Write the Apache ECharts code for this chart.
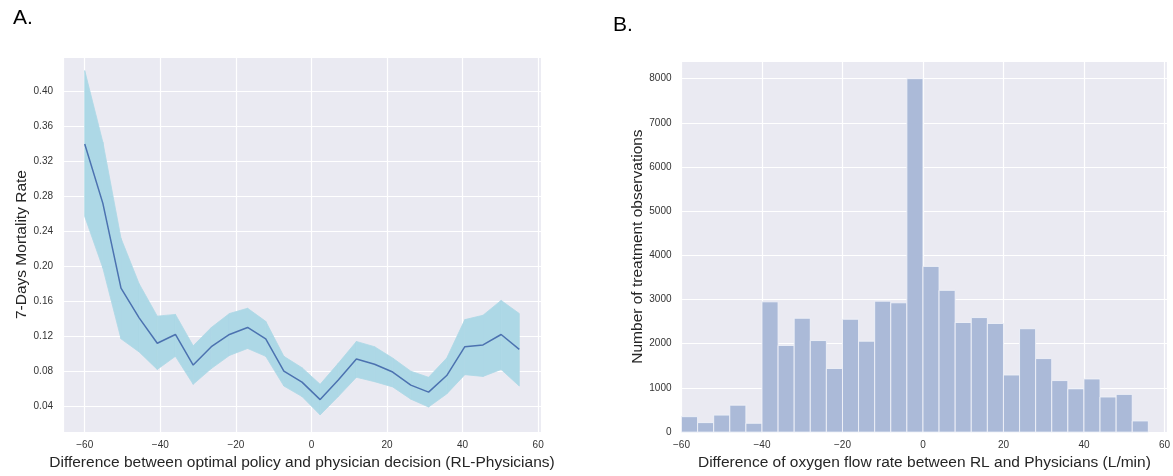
<!DOCTYPE html>
<html>
<head>
<meta charset="utf-8">
<script src="https://cdn.jsdelivr.net/npm/echarts@6/dist/echarts.min.js"></script>
<style>
html,body{margin:0;padding:0;background:#fff;}
#c{width:1173px;height:476px;}
</style>
</head>
<body>
<div id="c"></div>
<script>
// Panel A: mortality rate vs. difference (RL - Physicians)
const diffX = [-60, -55.2, -50.4, -45.6, -40.8, -36.0, -31.3, -26.5, -21.7, -16.9, -12.1, -7.3, -2.5,
  2.3, 7.1, 11.9, 16.7, 21.5, 26.3, 31.0, 35.8, 40.6, 45.4, 50.2, 55.0];
const mortalityMean = [0.340, 0.272, 0.175, 0.141, 0.112, 0.122, 0.087, 0.108, 0.122, 0.130, 0.117, 0.080, 0.0675,
  0.0475, 0.070, 0.094, 0.088, 0.079, 0.064, 0.056, 0.075, 0.108, 0.110, 0.122, 0.105];
const mortalityUpper = [0.424, 0.342, 0.232, 0.180, 0.143, 0.145, 0.109, 0.130, 0.146, 0.152, 0.137, 0.097, 0.084,
  0.065, 0.089, 0.114, 0.108, 0.095, 0.080, 0.073, 0.095, 0.139, 0.144, 0.161, 0.146];
const mortalityLower = [0.257, 0.198, 0.117, 0.102, 0.082, 0.097, 0.065, 0.083, 0.098, 0.106, 0.097, 0.063, 0.051,
  0.030, 0.051, 0.073, 0.068, 0.062, 0.048, 0.039, 0.054, 0.076, 0.074, 0.082, 0.063];

// Panel B: histogram of oxygen flow rate difference
const binStarts = [-60, -56, -52, -48, -44, -40, -36, -32, -28, -24, -20, -16, -12, -8, -4,
  0, 4, 8, 12, 16, 20, 24, 28, 32, 36, 40, 44, 48, 52];
const binWidth = 4;
const binCounts = [349, 215, 386, 609, 200, 2949, 1961, 2578, 2072, 1441, 2555, 2058, 2964, 2927, 8000,
  3751, 3209, 2481, 2592, 2459, 1293, 2340, 1664, 1166, 980, 1203, 795, 854, 253];

const FONT = '"Liberation Sans", Arial, sans-serif';
const fmtMinus = v => (v < 0 ? '\u2212' + String(Math.abs(v)) : String(v));

// band segments: [x0, x1, lo0, lo1, up0, up1]
const bandSegs = [];
for (let i = 0; i < diffX.length - 1; i++) {
  bandSegs.push([diffX[i], diffX[i + 1], mortalityLower[i], mortalityLower[i + 1], mortalityUpper[i], mortalityUpper[i + 1]]);
}
const meanData = diffX.map((x, i) => [x, mortalityMean[i]]);
const histData = binStarts.map((s, i) => [s, s + binWidth, binCounts[i]]);

const axisLabelBase = { color: '#333', fontSize: 10, fontFamily: FONT };
const splitLineBase = { show: true, lineStyle: { color: '#ffffff', width: 1.2 } };
const BAND = '#ADD8E6';

const chart = echarts.init(document.getElementById('c'), null, { renderer: 'canvas' });
chart.setOption({
  animation: false,
  backgroundColor: '#ffffff',
  title: [
    { text: 'A.', left: 8, top: 3, textStyle: { fontSize: 21, fontWeight: 'normal', color: '#000', fontFamily: FONT } },
    { text: 'B.', left: 608, top: 10, textStyle: { fontSize: 21, fontWeight: 'normal', color: '#000', fontFamily: FONT } }
  ],
  grid: [
    { left: 63, right: 632, top: 57, bottom: 40, show: true, backgroundColor: '#EAEAF2', borderWidth: 0, containLabel: false },
    { left: 681.5, right: 0, top: 61, bottom: 39, show: true, backgroundColor: '#EAEAF2', borderWidth: 0, containLabel: false }
  ],
  xAxis: [
    {
      gridIndex: 0, type: 'value', min: -65.75, max: 60.75, splitNumber: 6, minInterval: 20, maxInterval: 20,
      axisLine: { show: false }, axisTick: { show: false },
      axisLabel: Object.assign({}, axisLabelBase, { margin: 8,
        formatter: v => (Math.abs(v / 20 - Math.round(v / 20)) < 1e-6 ? fmtMinus(v) : '') }),
      splitLine: splitLineBase,
      name: 'Difference between optimal policy and physician decision (RL-Physicians)',
      nameLocation: 'middle', nameGap: 20,
      nameTextStyle: { fontSize: 15.5, color: '#262626', fontFamily: FONT }
    },
    {
      gridIndex: 1, type: 'value', min: -60, max: 60.7, interval: 20,
      axisLine: { show: false }, axisTick: { show: false },
      axisLabel: Object.assign({}, axisLabelBase, { margin: 8,
        formatter: v => (Math.abs(v / 20 - Math.round(v / 20)) < 1e-6 ? fmtMinus(v) : '') }),
      splitLine: splitLineBase,
      name: 'Difference of oxygen flow rate between RL and Physicians (L/min)',
      nameLocation: 'middle', nameGap: 20,
      nameTextStyle: { fontSize: 15.5, color: '#262626', fontFamily: FONT }
    }
  ],
  yAxis: [
    {
      gridIndex: 0, type: 'value', min: 0.0103, max: 0.4395, splitNumber: 10, minInterval: 0.04, maxInterval: 0.04,
      axisLine: { show: false }, axisTick: { show: false },
      axisLabel: Object.assign({}, axisLabelBase, { margin: 10,
        formatter: v => (Math.abs(v / 0.04 - Math.round(v / 0.04)) < 1e-6 ? v.toFixed(2) : '') }),
      splitLine: splitLineBase,
      name: '7-Days Mortality Rate', nameLocation: 'middle', nameGap: 31,
      nameTextStyle: { fontSize: 15.5, color: '#262626', fontFamily: FONT }
    },
    {
      gridIndex: 1, type: 'value', min: 0, max: 8400, interval: 1000,
      axisLine: { show: false }, axisTick: { show: false },
      axisLabel: Object.assign({}, axisLabelBase, { margin: 10,
        formatter: v => (v % 1000 === 0 ? String(v) : '') }),
      splitLine: splitLineBase,
      name: 'Number of treatment observations', nameLocation: 'middle', nameGap: 35,
      nameTextStyle: { fontSize: 15.5, color: '#262626', fontFamily: FONT }
    }
  ],
  series: [
    {
      name: 'band', type: 'custom', xAxisIndex: 0, yAxisIndex: 0, data: bandSegs,
      encode: { x: [0, 1], y: [2, 3, 4, 5] }, silent: true, z: 2,
      renderItem: function (params, api) {
        const a = api.coord([api.value(0), api.value(2)]);
        const b = api.coord([api.value(1), api.value(3)]);
        const c = api.coord([api.value(1), api.value(5)]);
        const d = api.coord([api.value(0), api.value(4)]);
        return {
          type: 'polygon',
          shape: { points: [a, b, c, d] },
          style: { fill: BAND, stroke: BAND, lineWidth: 0.8 }
        };
      }
    },
    {
      name: 'mean', type: 'line', xAxisIndex: 0, yAxisIndex: 0, data: meanData,
      symbol: 'none', lineStyle: { color: '#4C72B0', width: 1.5 }, z: 3
    },
    {
      name: 'hist', type: 'custom', xAxisIndex: 1, yAxisIndex: 1, data: histData,
      encode: { x: [0, 1], y: 2 },
      renderItem: function (params, api) {
        const p0 = api.coord([api.value(0), 0]);
        const p1 = api.coord([api.value(1), api.value(2)]);
        return {
          type: 'rect',
          shape: { x: p0[0], y: p1[1], width: p1[0] - p0[0], height: p0[1] - p1[1] },
          style: { fill: '#ABBAD8', stroke: 'rgba(240,242,248,0.9)', lineWidth: 1 }
        };
      },
      z: 3
    }
  ]
});
</script>
</body>
</html>
